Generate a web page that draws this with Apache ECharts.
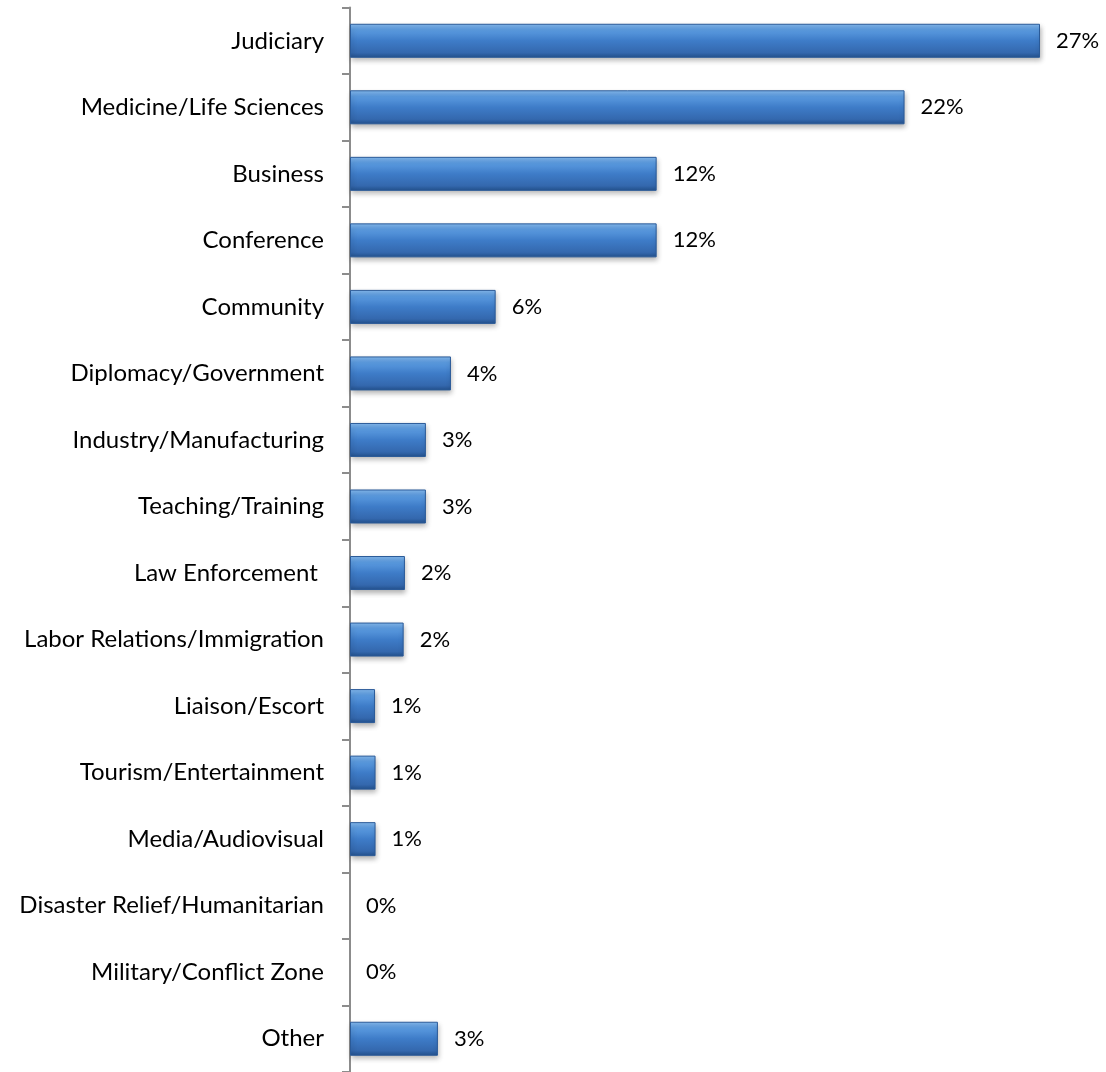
<!DOCTYPE html>
<html>
<head>
<meta charset="utf-8">
<script src="https://cdn.jsdelivr.net/npm/echarts@6/dist/echarts.min.js"></script>
<style>html,body{margin:0;padding:0;background:#fff;}#c{width:1106px;height:1072px;}</style>
</head>
<body>
<div id="c"></div>
<script>
const categories = ["Judiciary","Medicine/Life Sciences","Business","Conference","Community","Diplomacy/Government","Industry/Manufacturing","Teaching/Training","Law Enforcement ","Labor Relations/Immigration","Liaison/Escort","Tourism/Entertainment","Media/Audiovisual","Disaster Relief/Humanitarian","Military/Conflict Zone","Other"];
const values = [27.0, 21.7, 12.0, 12.0, 5.7, 3.95, 2.97, 2.97, 2.15, 2.1, 0.98, 1.0, 1.0, 0, 0, 3.44];

const chart = echarts.init(document.getElementById('c'));
chart.setOption({
  animation: false,
  backgroundColor: '#ffffff',
  grid: { left: 350, top: 7.5, width: 690, height: 1066.7, containLabel: false },
  xAxis: { type: 'value', min: 0, max: 27, show: false },
  yAxis: {
    type: 'category', data: categories, inverse: true,
    axisLine: { show: true, lineStyle: { color: '#8c8c8c', width: 2 } },
    axisTick: { show: true, length: 8, lineStyle: { color: '#8c8c8c', width: 2 } },
    axisLabel: { margin: 26, fontFamily: 'Lato', fontSize: 24, color: '#000' }
  },
  series: [{
    type: 'bar', barWidth: 34,
    data: values.map(v => v === 0 ? { value: v, itemStyle: { borderWidth: 0, shadowBlur: 0, opacity: 0 } } : v),
    itemStyle: {
      color: new echarts.graphic.LinearGradient(0, 0, 0, 1, [
        { offset: 0, color: '#86bbf0' },
        { offset: 0.18, color: '#5b9be0' },
        { offset: 0.5, color: '#3e7cc8' },
        { offset: 0.85, color: '#3468ae' },
        { offset: 1, color: '#23518c' }
      ]),
      borderColor: '#2a5a98', borderWidth: 1,
      shadowBlur: 5, shadowOffsetY: 3, shadowOffsetX: 1, shadowColor: 'rgba(0,0,0,0.3)'
    },
    label: {
      show: true, position: 'right', distance: 16,
      fontFamily: 'Lato', fontSize: 22, color: '#000', opacity: 1,
      formatter: p => Math.round(p.value) + '%'
    }
  }]
});
</script>
</body>
</html>
